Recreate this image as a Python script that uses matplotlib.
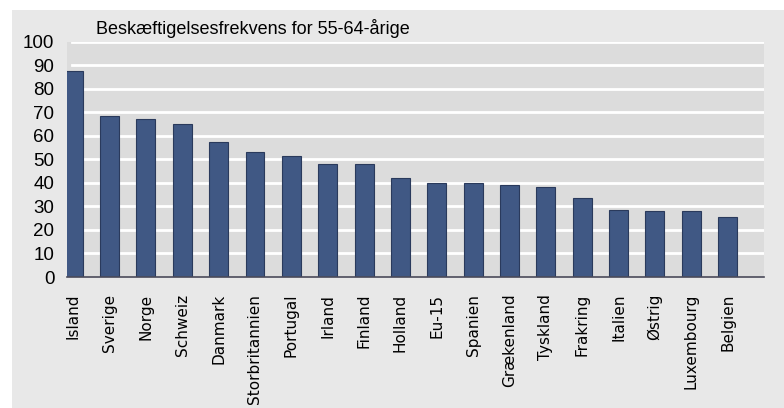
import matplotlib
matplotlib.use("Agg")
import matplotlib.pyplot as plt

countries = ["Island", "Sverige", "Norge", "Schweiz", "Danmark", "Storbritannien",
             "Portugal", "Irland", "Finland", "Holland", "Eu-15", "Spanien",
             "Grækenland", "Tyskland", "Frakring", "Italien", "Østrig",
             "Luxembourg", "Belgien"]
values = [87.3, 68.3, 67.0, 64.9, 57.3, 53.2, 51.3, 47.9, 47.9, 41.9, 39.8, 39.8,
          39.0, 38.2, 33.5, 28.4, 27.9, 27.9, 25.6]
yticks = [0, 10, 20, 30, 40, 50, 60, 70, 80, 90, 100]
title = "Beskæftigelsesfrekvens for 55-64-årige"

narrow = ["Liberation Sans", "DejaVu Sans"]

fig = plt.figure(figsize=(7.84, 4.08), dpi=100)
fig.patch.set_facecolor("white")

bg = fig.add_axes([12/784, 0, 1 - 12/784, 1 - 10/408], zorder=0)
bg.set_facecolor("#e8e8e8")
bg.set_xticks([])
bg.set_yticks([])
for s in bg.spines.values():
    s.set_visible(False)

ax = fig.add_axes([67/784, 1 - 277/408, (764-67)/784, (277-41.5)/408], zorder=1)
ax.set_facecolor("#dcdcdc")
x = list(range(len(countries)))
ax.bar(x, values, width=0.52, color="#405884", edgecolor="#2a3a5c", linewidth=0.8, zorder=3)
ax.set_xlim(-0.17, len(countries))
ax.set_ylim(0, 100)
for y in yticks[1:]:
    ax.axhline(y, xmin=0.007, xmax=1, color="white", linewidth=2, zorder=1)
for s in ["top", "right", "left"]:
    ax.spines[s].set_visible(False)
ax.spines["bottom"].set_color("#4a4a5a")
ax.spines["bottom"].set_linewidth(1.2)
ax.spines["bottom"].set_zorder(4)
ax.set_yticks(yticks)
ax.set_yticklabels([str(v) for v in yticks], family=narrow, fontsize=13.5)
ax.set_xticks(x)
ax.set_xticklabels(countries, rotation=90, fontsize=11, va="top", ha="center")
ax.tick_params(axis="y", length=0, pad=9)
ax.tick_params(axis="x", length=0, pad=12)

fig.text(96/784, 1 - 29/408, title, family=narrow, fontsize=13, ha="left", va="center")

fig.savefig("out.png", dpi=100)
